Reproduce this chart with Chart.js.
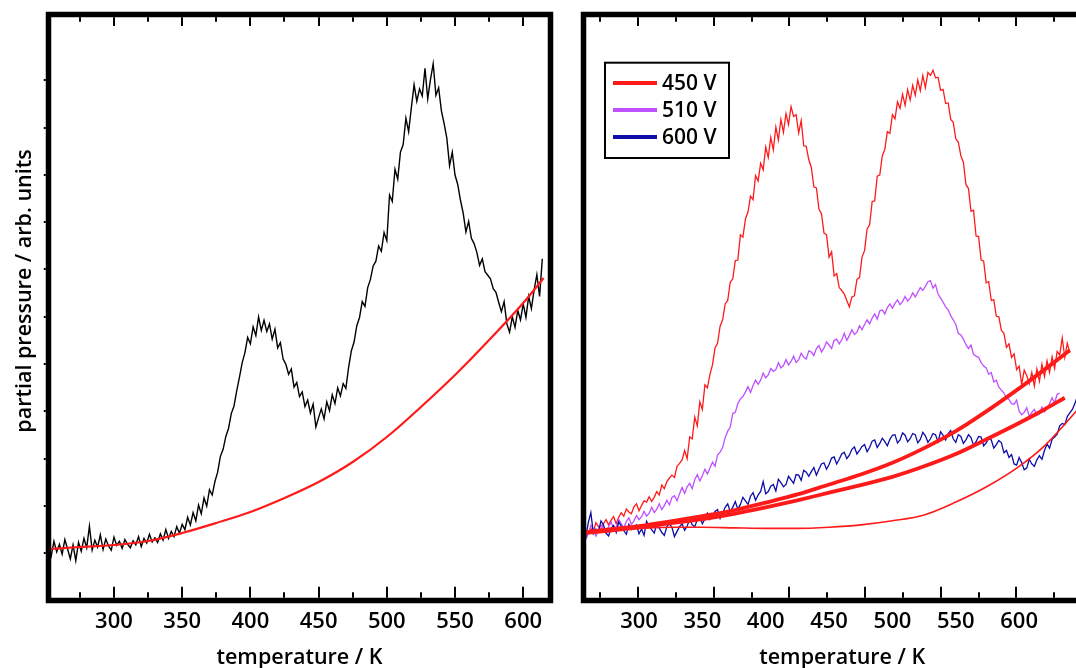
<!DOCTYPE html>
<html>
<head>
<meta charset="utf-8">
<title>TPD spectra</title>
<script src="https://cdn.jsdelivr.net/npm/chart.js@4.4.1/dist/chart.umd.min.js"></script>
<style>
  html, body { margin: 0; padding: 0; background: #fff; overflow: hidden; }
  body { width: 1076px; height: 668px; position: relative; }
  #leftChart { position: absolute; left: 0; top: 0; }
  #rightChart { position: absolute; left: 560px; top: 0; }
</style>
</head>
<body>
<canvas id="leftChart" width="560" height="668"></canvas>
<canvas id="rightChart" width="560" height="668"></canvas>
<script>
// ---- left panel: single desorption trace and its background fit ----
const leftTemps = [
  252,254,256,258,260,262,264,266,268,270,
  272,274,276,278,280,282,284,286,288,290,
  292,294,296,298,300,302,304,306,308,310,
  312,314,316,318,320,322,324,326,328,330,
  332,334,336,338,340,342,344,346,348,350,
  352,354,356,358,360,362,364,366,368,370,
  372,374,376,378,380,382,384,386,388,390,
  392,394,396,398,400,402,404,406,408,410,
  412,414,416,418,420,422,424,426,428,430,
  432,434,436,438,440,442,444,446,448,450,
  452,454,456,458,460,462,464,466,468,470,
  472,474,476,478,480,482,484,486,488,490,
  492,494,496,498,500,502,504,506,508,510,
  512,514,516,518,520,522,524,526,528,530,
  532,534,536,538,540,542,544,546,548,550,
  552,554,556,558,560,562,564,566,568,570,
  572,574,576,578,580,582,584,586,588,590,
  592,594,596,598,600,602,604,606,608,610,612,614
];
const leftSignal = [
  9.2, 7.6, 10.1, 8.3, 9.6, 7.9, 10.4, 8.8, 7.1, 9.5,
  6.8, 9.9, 8.4, 10.6, 9.0, 12.7, 8.6, 10.3, 9.1, 11.2,
  8.7, 10.5, 9.3, 8.6, 10.8, 9.4, 10.1, 8.9, 10.4, 9.6,
  9.0, 10.2, 9.5, 10.9, 9.2, 10.6, 9.8, 11.3, 10.0, 10.7,
  9.9, 11.4, 10.3, 12.1, 10.6, 11.8, 10.9, 12.6, 11.5, 13.0,
  12.1, 14.2, 12.9, 15.0, 13.6, 16.3, 14.8, 17.5, 16.1, 18.9,
  18.0, 20.3, 21.9, 24.6, 25.8, 28.0, 29.4, 31.9, 33.2, 35.8,
  38.1, 40.6, 42.3, 44.9, 43.8, 46.7, 45.2, 48.4, 46.1, 47.8,
  45.9, 47.2, 44.6, 46.3, 43.1, 44.0, 41.2, 40.3, 38.6, 39.5,
  36.4, 37.2, 34.8, 35.6, 33.1, 34.2, 32.0, 33.5, 29.6, 31.2,
  32.7, 31.0, 33.9, 32.4, 35.1, 33.6, 36.3, 34.9, 37.0, 36.2,
  39.8, 42.6, 44.1, 46.9, 48.3, 51.0, 50.2, 53.4, 54.8, 57.1,
  57.9, 60.5, 59.6, 62.8, 61.4, 69.2, 68.1, 73.6, 71.9, 76.5,
  77.8, 82.3, 80.0, 84.1, 88.0, 85.2, 87.3, 86.1, 90.8, 85.6,
  88.9, 91.6, 86.2, 87.5, 83.6, 81.4, 78.9, 74.2, 76.5, 72.6,
  71.0, 68.3, 66.1, 62.9, 64.7, 61.8, 60.9, 59.4, 57.2, 58.3,
  56.1, 55.5, 54.9, 53.2, 52.6, 50.9, 49.3, 51.0, 47.2, 45.8,
  48.4, 46.6, 49.5, 47.9, 50.6, 48.3, 51.9, 49.8, 53.0, 55.6, 51.9, 58.3
];
const leftFitTemps = [252, 275, 300, 325, 350, 375, 400, 425, 450, 475, 500, 525, 550, 575, 600, 615];
const leftFitValues = [8.79, 9.13, 9.47, 10.15, 11.52, 13.23, 15.10, 17.49, 20.22, 23.63, 27.90, 33.02, 38.48, 44.45, 50.77, 55.03];

// ---- right panel: three discharge voltages with their background fits ----
const rightTemps = [
  256,258,260,262,264,266,268,270,272,274,
  276,278,280,282,284,286,288,290,292,294,
  296,298,300,302,304,306,308,310,312,314,
  316,318,320,322,324,326,328,330,332,334,
  336,338,340,342,344,346,348,350,352,354,
  356,358,360,362,364,366,368,370,372,374,
  376,378,380,382,384,386,388,390,392,394,
  396,398,400,402,404,406,408,410,412,414,
  416,418,420,422,424,426,428,430,432,434,
  436,438,440,442,444,446,448,450,452,454,
  456,458,460,462,464,466,468,470,472,474,
  476,478,480,482,484,486,488,490,492,494,
  496,498,500,502,504,506,508,510,512,514,
  516,518,520,522,524,526,528,530,532,534,
  536,538,540,542,544,546,548,550,552,554,
  556,558,560,562,564,566,568,570,572,574,
  576,578,580,582,584,586,588,590,592,594,
  596,598,600,602,604,606,608,610,612,614,
  616,618,620,622,624,626,628,630,632,634,
  636,638,640,642,644,646
];
const seriesLabels = ['450 V', '510 V', '600 V'];
const seriesColors = ['#ff1a1a', '#bf50ff', '#0c0ca8'];
const signal450 = [
  11.9, 10.6, 11.5, 12.3, 11.7, 13.3, 12.6, 12.0, 13.1, 13.8,
  12.9, 13.7, 14.3, 13.1, 14.2, 15.0, 14.4, 15.6, 15.1, 14.8,
  16.0, 16.5, 15.3, 16.2, 17.0, 16.8, 17.7, 16.9, 17.6, 18.6,
  18.0, 19.7, 19.1, 20.3, 20.9, 21.4, 21.0, 22.9, 23.4, 24.0,
  25.6, 24.2, 27.9, 27.6, 31.3, 29.8, 33.9, 32.6, 36.8, 36.3,
  38.6, 40.2, 43.1, 43.9, 46.8, 47.9, 50.6, 51.2, 54.3, 54.9,
  58.0, 58.1, 62.4, 62.0, 65.1, 66.3, 69.0, 68.4, 72.5, 71.6,
  74.6, 73.5, 77.4, 75.6, 79.0, 76.9, 80.8, 78.6, 82.1, 79.9,
  83.1, 81.2, 84.3, 82.6, 82.9, 79.8, 81.9, 77.6, 77.5, 75.2,
  73.9, 70.6, 70.4, 66.8, 66.0, 62.7, 62.4, 58.6, 59.5, 55.4,
  55.8, 53.4, 52.9, 52.3, 51.2, 50.1, 51.8, 52.0, 54.8, 55.1,
  58.6, 59.7, 63.4, 64.1, 68.1, 68.2, 72.4, 72.6, 75.9, 77.0,
  80.0, 79.7, 82.9, 82.2, 85.1, 84.0, 86.4, 84.5, 87.2, 85.4,
  87.9, 86.2, 88.8, 87.0, 89.6, 87.5, 90.1, 89.6, 90.5, 89.2,
  89.3, 87.1, 87.2, 84.8, 84.9, 82.1, 81.6, 78.8, 78.2, 75.9,
  74.8, 71.0, 70.3, 66.4, 66.6, 62.2, 62.1, 58.1, 57.9, 54.2,
  54.4, 51.2, 51.3, 48.5, 48.4, 46.1, 45.6, 43.2, 43.8, 41.5,
  42.1, 39.4, 40.0, 36.9, 39.3, 38.4, 37.0, 38.9, 36.6, 39.5,
  37.4, 40.3, 38.2, 40.9, 38.9, 41.6, 39.6, 42.5, 41.9, 44.8,
  41.5, 43.9, 42.3
];
const signal510 = [
  11.9, 10.5, 11.4, 12.8, 12.2, 11.0, 11.9, 12.9, 12.3, 11.5,
  12.6, 13.4, 12.2, 12.5, 13.8, 13.1, 12.4, 13.5, 14.1, 13.0,
  13.6, 14.5, 13.8, 14.3, 15.2, 14.4, 14.9, 15.9, 15.0, 15.6,
  16.5, 15.5, 16.2, 17.1, 16.3, 17.6, 17.9, 17.0, 18.2, 19.3,
  18.3, 19.4, 20.0, 19.1, 20.6, 21.5, 20.4, 21.3, 22.4, 21.6,
  22.6, 23.6, 22.9, 24.8, 25.3, 26.1, 27.8, 28.9, 29.6, 31.9,
  32.1, 33.6, 34.4, 34.8, 35.6, 36.5, 35.5, 36.7, 37.6, 36.9,
  37.6, 38.8, 38.0, 38.5, 39.6, 39.1, 39.4, 40.6, 39.7, 40.1,
  41.1, 40.2, 40.8, 41.7, 40.6, 41.1, 42.2, 41.5, 41.2, 42.6,
  42.4, 41.8, 43.0, 43.5, 42.4, 43.1, 44.1, 43.6, 43.0, 44.4,
  44.6, 43.8, 44.5, 45.6, 44.4, 45.2, 46.2, 45.4, 45.8, 46.9,
  46.2, 47.1, 47.9, 47.2, 48.2, 48.9, 48.0, 49.4, 49.6, 48.9,
  50.0, 50.6, 49.9, 50.7, 51.3, 50.5, 51.0, 51.9, 51.1, 51.6,
  52.5, 51.8, 52.6, 53.4, 52.9, 53.6, 54.4, 54.6, 53.3, 53.9,
  52.3, 51.6, 50.9, 50.1, 49.6, 48.6, 47.9, 47.1, 45.6, 45.3,
  44.6, 43.7, 43.0, 43.6, 42.0, 41.7, 41.5, 40.6, 40.0, 39.7,
  38.6, 38.9, 37.3, 37.6, 36.4, 35.9, 35.4, 34.6, 34.3, 33.6,
  33.5, 34.2, 32.3, 31.7, 32.1, 32.9, 31.4, 32.1, 32.6, 31.6,
  31.9, 33.0, 32.2, 32.8, 33.6, 34.6, 33.7, 35.2, 35.4
];
const signal600 = [
  12.4, 10.9, 13.3, 15.0, 11.4, 12.2, 11.8, 13.6, 12.9, 11.5,
  11.0, 12.3, 12.8, 11.6, 13.4, 12.7, 11.9, 11.3, 13.0, 12.1,
  12.6, 12.9, 11.4, 12.2, 11.1, 13.5, 12.6, 12.1, 11.5, 13.0,
  12.4, 11.6, 11.1, 12.6, 13.1, 12.5, 10.9, 11.8, 12.6, 13.1,
  12.0, 12.7, 13.8, 12.9, 12.6, 13.8, 14.2, 13.1, 13.9, 14.9,
  13.8, 14.3, 15.2, 15.5, 14.0, 14.9, 15.9, 16.5, 15.2, 15.9,
  16.9, 15.6, 16.4, 17.6, 17.0, 16.4, 17.8, 18.4, 17.1, 18.0,
  18.6, 20.3, 18.2, 18.6, 19.5, 19.8, 18.7, 20.7, 20.1, 19.4,
  19.8, 21.2, 20.6, 20.0, 21.5, 21.4, 20.5, 22.2, 21.9, 21.2,
  22.0, 22.7, 21.4, 22.4, 23.3, 23.5, 22.4, 23.2, 24.3, 24.5,
  23.3, 24.1, 25.0, 25.3, 24.2, 24.8, 25.8, 26.2, 25.0, 25.6,
  26.3, 26.6, 25.4, 26.1, 27.2, 27.4, 26.1, 26.8, 27.7, 27.1,
  26.4, 27.5, 28.2, 28.3, 26.9, 27.4, 28.6, 28.2, 27.1, 27.6,
  28.5, 28.3, 26.9, 27.5, 28.7, 28.1, 27.0, 27.6, 28.5, 28.3,
  27.1, 28.8, 28.2, 27.4, 28.5, 29.0, 27.6, 27.0, 28.3, 28.0,
  26.8, 27.4, 28.3, 27.8, 26.5, 27.1, 28.0, 27.9, 26.4, 26.9,
  27.7, 27.4, 26.0, 26.6, 27.3, 26.9, 25.2, 25.6, 24.4, 24.9,
  23.3, 23.1, 24.4, 23.5, 22.3, 22.6, 24.1, 23.3, 22.9, 24.0,
  24.7, 24.1, 25.6, 26.7, 26.0, 27.5, 27.9, 28.4, 29.8, 30.2,
  30.0, 31.4, 32.0, 32.6, 33.6, 34.9
];
// background fits (smooth)
const fitUpperTemps = [256, 275, 300, 325, 350, 375, 400, 425, 450, 475, 500, 525, 550, 575, 600, 620, 640];
const fitUpperValues = [11.6, 12.1, 12.7, 13.5, 14.4, 15.4, 16.7, 18.1, 19.8, 21.5, 23.5, 26.0, 28.9, 32.4, 36.2, 39.4, 42.7];
const fitLowerTemps = [256, 275, 300, 325, 350, 375, 400, 425, 450, 475, 500, 525, 550, 575, 600, 620, 636];
const fitLowerValues = [11.5, 11.9, 12.5, 13.2, 13.9, 14.8, 15.9, 17.1, 18.4, 19.7, 21.1, 22.9, 25.0, 27.6, 30.3, 32.6, 34.6];
const fitThinTemps = [256, 275, 300, 325, 350, 375, 400, 425, 450, 475, 500, 525, 550, 575, 600, 620, 645, 665];
const fitThinValues = [11.7, 12.0, 12.3, 12.5, 12.5, 12.4, 12.3, 12.3, 12.5, 12.9, 13.6, 14.6, 16.8, 19.5, 22.9, 26.4, 32.3, 37.5];

const FONT = "'Open Sans', 'DejaVu Sans', sans-serif";
const tickFont = { family: FONT, size: 22, weight: '600' };
const titleFont = { family: FONT, size: 21.5, weight: '600' };

const toPoints = (xs, ys) => ys.map((y, i) => ({ x: xs[i], y: y }));

const tickLabel = (v) => (v % 50 === 0 && v >= 300 && v <= 600) ? String(v) : '';

// thick frame + inward tick marks (major every 50 K, minor every 25 K)
const frameTicks = {
  id: 'frameTicks',
  afterDatasetsDraw(chart, args, opts) {
    const { ctx, chartArea: a } = chart;
    const xs = chart.scales[opts.tickScale];
    const ys = chart.scales.y;
    const half = 2.75;
    ctx.save();
    ctx.strokeStyle = '#000';
    ctx.lineWidth = 5.5;
    ctx.strokeRect(a.left, a.top, a.right - a.left, a.bottom - a.top);
    ctx.lineWidth = 2;
    ctx.beginPath();
    xs.ticks.forEach(t => {
      const x = Math.round(xs.getPixelForValue(t.value));
      if (x < a.left + 4 || x > a.right - 4) return;
      const len = t.value % 50 === 0 ? 11 : 5.5;
      ctx.moveTo(x, a.bottom - half);
      ctx.lineTo(x, a.bottom - half - len);
      ctx.moveTo(x, a.top + half);
      ctx.lineTo(x, a.top + half + len * 0.8);
    });
    if (opts.yTicks) {
      ys.ticks.forEach(t => {
        if (t.value <= 0 || t.value > 90) return;
        const y = Math.round(ys.getPixelForValue(t.value));
        ctx.moveTo(a.left - half, y);
        ctx.lineTo(a.left - half - 2, y);
      });
    }
    ctx.stroke();
    ctx.restore();
  }
};

// rotated axis caption placed beside the frame
const sideTitle = {
  id: 'sideTitle',
  afterDraw(chart, args, opts) {
    if (!opts.text) return;
    const { ctx } = chart;
    ctx.save();
    ctx.translate(opts.x, opts.y);
    ctx.rotate(-Math.PI / 2);
    ctx.font = `600 21.5px ${FONT}`;
    ctx.fillStyle = '#000';
    ctx.textAlign = 'center';
    ctx.textBaseline = 'middle';
    ctx.fillText(opts.text, 0, 0);
    ctx.restore();
  }
};

// framed legend in the upper left of the plot area
const boxLegend = {
  id: 'boxLegend',
  afterDraw(chart, args, opts) {
    if (!opts.show) return;
    const { ctx, chartArea: a } = chart;
    const items = chart.data.datasets.filter(d => seriesLabels.includes(d.label));
    const x0 = a.left + 21.5, y0 = a.top + 48.2, w = 124, h = 95.3;
    ctx.save();
    ctx.fillStyle = '#fff';
    ctx.fillRect(x0, y0, w, h);
    ctx.strokeStyle = '#000';
    ctx.lineWidth = 2;
    ctx.strokeRect(x0, y0, w, h);
    ctx.font = `600 21px ${FONT}`;
    ctx.textBaseline = 'middle';
    items.forEach((d, i) => {
      const y = y0 + 20.3 + i * 27;
      ctx.strokeStyle = d.borderColor;
      ctx.lineWidth = 4;
      ctx.beginPath();
      ctx.moveTo(x0 + 8, y);
      ctx.lineTo(x0 + 52, y);
      ctx.stroke();
      ctx.fillStyle = '#000';
      ctx.fillText(d.label, x0 + 57, y + 1);
    });
    ctx.restore();
  }
};

const xTitle = { display: true, text: 'temperature / K', color: '#000', font: titleFont, padding: { top: 0, bottom: -3 } };
const hidden = { display: false, drawTicks: false };

new Chart(document.getElementById('leftChart'), {
  type: 'line',
  data: {
    datasets: [
      { label: 'fit', data: toPoints(leftFitTemps, leftFitValues), borderColor: '#ff1a1a', borderWidth: 2.2,
        pointRadius: 0, cubicInterpolationMode: 'monotone', order: 0 },
      { label: 'signal', data: toPoints(leftTemps, leftSignal), borderColor: '#000', borderWidth: 1.4,
        pointRadius: 0, tension: 0, order: 1 }
    ]
  },
  options: {
    responsive: false,
    animation: false,
    devicePixelRatio: 1,
    layout: { padding: { left: 0, top: 14.5, right: 9.5, bottom: 0 } },
    plugins: {
      legend: { display: false }, tooltip: { enabled: false },
      frameTicks: { tickScale: 'x', yTicks: true },
      sideTitle: { text: 'partial pressure / arb. units', x: 25, y: 291 }
    },
    scales: {
      x: {
        type: 'linear', position: 'bottom', min: 252, max: 620,
        grid: hidden, border: { display: false },
        ticks: { stepSize: 25, includeBounds: false, autoSkip: false, maxRotation: 0, padding: 8,
                 color: '#000', font: tickFont, callback: tickLabel },
        title: xTitle,
        afterFit: s => { s.height = 67.5; }
      },
      y: {
        min: 0, max: 100,
        grid: hidden, border: { display: false },
        ticks: { display: false, stepSize: 8.07 },
        afterFit: s => { s.width = 48.5; }
      }
    }
  },
  plugins: [frameTicks, sideTitle]
});

const rightSets = [signal450, signal510, signal600].map((vals, i) => ({
  label: seriesLabels[i], data: toPoints(rightTemps, vals), borderColor: seriesColors[i],
  borderWidth: 1.3, pointRadius: 0, tension: 0, order: 3 - i, xAxisID: 'x'
}));
const fitSet = (xs, ys, w) => ({
  label: 'fit', data: toPoints(xs, ys), borderColor: '#ff1a1a', borderWidth: w,
  pointRadius: 0, cubicInterpolationMode: 'monotone', order: 0, xAxisID: 'x'
});

new Chart(document.getElementById('rightChart'), {
  type: 'line',
  data: {
    datasets: [
      ...rightSets,
      fitSet(fitUpperTemps, fitUpperValues, 3.8),
      fitSet(fitLowerTemps, fitLowerValues, 3.8),
      fitSet(fitThinTemps, fitThinValues, 1.6)
    ]
  },
  options: {
    responsive: false,
    animation: false,
    devicePixelRatio: 1,
    layout: { padding: { left: 0, top: 14.5, right: 19, bottom: 0 } },
    plugins: { legend: { display: false }, tooltip: { enabled: false },
               frameTicks: { tickScale: 'xt', yTicks: false }, boxLegend: { show: true } },
    scales: {
      x: {
        type: 'linear', position: 'bottom', min: 256.2, max: 664.6,
        grid: hidden, border: { display: false },
        ticks: { stepSize: 50, includeBounds: false, autoSkip: false, maxRotation: 0, padding: 8,
                 color: '#000', font: tickFont, callback: tickLabel },
        title: xTitle,
        afterFit: s => { s.height = 67.5; }
      },
      xt: {
        type: 'linear', position: 'top', min: 263.8, max: 606,
        grid: hidden, border: { display: false },
        ticks: { display: false, stepSize: 25, includeBounds: false },
        afterFit: s => { s.height = 0; }
      },
      y: {
        min: 0, max: 100,
        grid: hidden, border: { display: false },
        ticks: { display: false, stepSize: 8 },
        afterFit: s => { s.width = 23.5; }
      }
    }
  },
  plugins: [frameTicks, boxLegend]
});
</script>
</body>
</html>
